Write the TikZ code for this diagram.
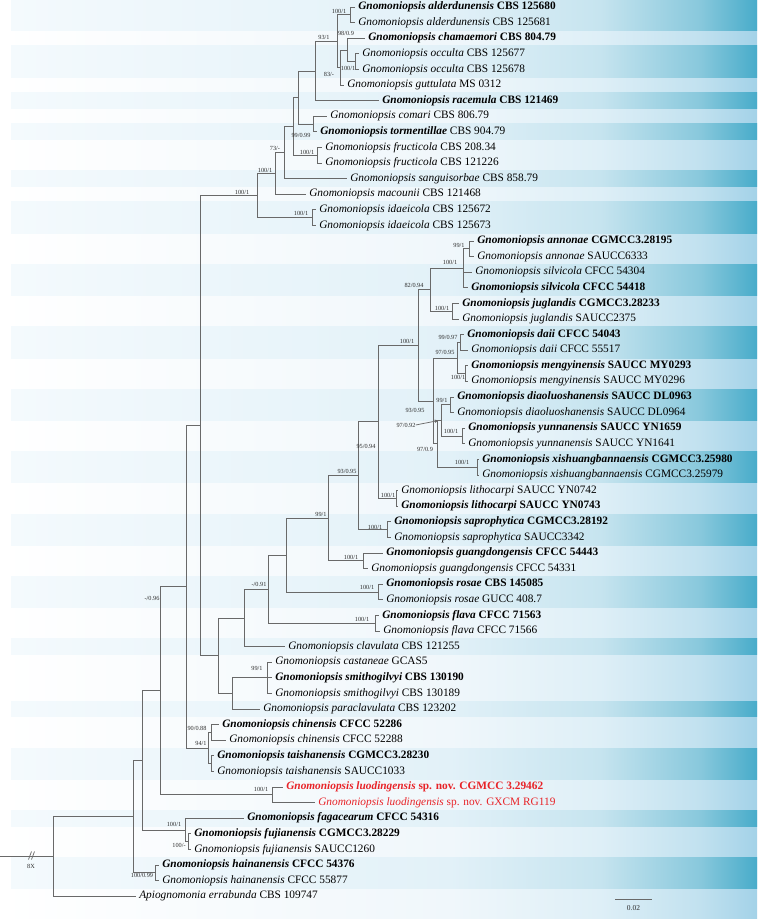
\documentclass[tikz,border=0pt]{standalone}
\usepackage{fontspec}
\setmainfont{Liberation Serif}
\usetikzlibrary{arrows.meta}
\definecolor{brc}{RGB}{105,105,105}
\definecolor{bsc}{RGB}{45,45,45}
\definecolor{redtx}{RGB}{232,35,40}
\definecolor{a0}{RGB}{244,250,253}
\definecolor{a1}{RGB}{226,241,248}
\definecolor{a2}{RGB}{198,228,239}
\definecolor{a3}{RGB}{136,200,220}
\definecolor{a4}{RGB}{72,172,202}
\definecolor{b0}{RGB}{255,255,255}
\definecolor{b1}{RGB}{240,247,251}
\definecolor{b2}{RGB}{222,239,247}
\definecolor{b3}{RGB}{193,225,239}
\definecolor{b4}{RGB}{163,210,232}
\newcommand{\taxfont}{\fontsize{8.5}{9.5}\selectfont}
\newcommand{\bsfont}{\fontsize{4.7}{5}\selectfont}
\newcommand{\TxB}[2]{\textbf{\textit{#1}} \textbf{#2}}
\newcommand{\TxN}[2]{\textit{#1} #2}
\begin{document}
\begin{tikzpicture}[x=0.75pt,y=-0.75pt,
  br/.style={draw=brc,line width=0.55pt},
  tx/.style={anchor=west,inner sep=0pt,font=\taxfont},
  bs/.style={inner sep=0pt,font=\bsfont,text=bsc}]
\useasboundingbox (0,0) rectangle (757,919);
\fill[white] (0,0) rectangle (757,919);
% light bands (whole height)
\shade[left color=b0,right color=b1] (0,0) rectangle (450.5,919);
\shade[left color=b1,right color=b2] (450,0) rectangle (600.5,919);
\shade[left color=b2,right color=b3] (600,0) rectangle (700.5,919);
\shade[left color=b3,right color=b4] (700,0) rectangle (757,919);
% darker bands
\foreach \ya/\yb in {0/30.4,46/77.2,92.8/108.4,124/139.6,170.8/186.4,202/233.2,264.4/295.6,326.8/358,389.2/420.4,451.6/482.8,514/545.2,576.4/607.6,638.8/654.4,701.2/716.8,748/779.2,810.4/826,857.2/888.4}{
  \shade[left color=a0,right color=a1] (11,\ya) rectangle (450.5,\yb);
  \shade[left color=a1,right color=a2] (450,\ya) rectangle (600.5,\yb);
  \shade[left color=a2,right color=a3] (600,\ya) rectangle (700.5,\yb);
  \shade[left color=a3,right color=a4] (700,\ya) rectangle (757,\yb);
}
% internal nodes
\coordinate (stem) at (0,856.4);
\coordinate (Root) at (53,856.4);
\coordinate (N133) at (133,816.6);
\coordinate (N142) at (142,760.35);
\coordinate (N160) at (160,690.8);
\coordinate (N186) at (186,586.8);
\coordinate (N200) at (200,425.55);
\coordinate (N257) at (257,195.45);
\coordinate (N275) at (275,173.3);
\coordinate (N284) at (284,152.45);
\coordinate (N293) at (293,126.3);
\coordinate (N298) at (298,97.45);
\coordinate (T1) at (315,70.9);
\coordinate (T2) at (337,41.1);
\coordinate (Aald) at (350,14.8);
\coordinate (N83) at (340,67.45);
\coordinate (C98) at (347,49.9);
\coordinate (Occ) at (355,61.6);
\coordinate (CT) at (313,124.0);
\coordinate (F) at (317,155.2);
\coordinate (I) at (312,217.6);
\coordinate (N218) at (218,655.65);
\coordinate (N244) at (244,617.9);
\coordinate (N268) at (268,589.15);
\coordinate (N286) at (286,555.1);
\coordinate (N328) at (328,518.25);
\coordinate (N358) at (358,475.7);
\coordinate (N378) at (378,421.85);
\coordinate (N418) at (418,345.3);
\coordinate (N430) at (430,289.75);
\coordinate (AS) at (463,268.3);
\coordinate (An) at (469,248.8);
\coordinate (Ju) at (452,311.2);
\coordinate (N433) at (433,400.9);
\coordinate (DM) at (457,358.0);
\coordinate (D) at (460,342.4);
\coordinate (M) at (465,373.6);
\coordinate (Z) at (437,443.8);
\coordinate (W) at (441,420.4);
\coordinate (Di) at (450,404.8);
\coordinate (Yu) at (462,436.0);
\coordinate (Xi) at (477,467.2);
\coordinate (Li) at (396,498.4);
\coordinate (Sp) at (387,529.6);
\coordinate (G) at (363,560.8);
\coordinate (R) at (378,592.0);
\coordinate (F2) at (375,623.2);
\coordinate (N232) at (232,693.4);
\coordinate (S) at (267,677.8);
\coordinate (CT2) at (208,748.0);
\coordinate (Ch) at (211,732.4);
\coordinate (Ta) at (211,763.6);
\coordinate (L) at (272,794.8);
\coordinate (FF) at (185,829.9);
\coordinate (FJ) at (188,841.6);
\coordinate (H) at (155,872.8);
% leaves
\node[tx] (l1) at (358,7.0) {\TxB{Gnomoniopsis alderdunensis}{CBS 125680}};
\node[tx] (l2) at (358,22.6) {\TxN{Gnomoniopsis alderdunensis}{CBS 125681}};
\node[tx] (l3) at (368,38.2) {\TxB{Gnomoniopsis chamaemori}{CBS 804.79}};
\node[tx] (l4) at (362,53.8) {\TxN{Gnomoniopsis occulta}{CBS 125677}};
\node[tx] (l5) at (362,69.4) {\TxN{Gnomoniopsis occulta}{CBS 125678}};
\node[tx] (l6) at (347,85.0) {\TxN{Gnomoniopsis guttulata}{MS 0312}};
\node[tx] (l7) at (382,100.6) {\TxB{Gnomoniopsis racemula}{CBS 121469}};
\node[tx] (l8) at (330,116.2) {\TxN{Gnomoniopsis comari}{CBS 806.79}};
\node[tx] (l9) at (320,131.8) {\textbf{\textit{Gnomoniopsis tormentillae}} CBS 904.79};
\node[tx] (l10) at (325,147.4) {\TxN{Gnomoniopsis fructicola}{CBS 208.34}};
\node[tx] (l11) at (325,163.0) {\TxN{Gnomoniopsis fructicola}{CBS 121226}};
\node[tx] (l12) at (350,178.6) {\TxN{Gnomoniopsis sanguisorbae}{CBS 858.79}};
\node[tx] (l13) at (309,194.2) {\TxN{Gnomoniopsis macounii}{CBS 121468}};
\node[tx] (l14) at (319,209.8) {\TxN{Gnomoniopsis idaeicola}{CBS 125672}};
\node[tx] (l15) at (319,225.4) {\TxN{Gnomoniopsis idaeicola}{CBS 125673}};
\node[tx] (l16) at (477,241.0) {\TxB{Gnomoniopsis annonae}{CGMCC3.28195}};
\node[tx] (l17) at (477,256.6) {\TxN{Gnomoniopsis annonae}{SAUCC6333}};
\node[tx] (l18) at (475,272.2) {\TxN{Gnomoniopsis silvicola}{CFCC 54304}};
\node[tx] (l19) at (471,287.8) {\TxB{Gnomoniopsis silvicola}{CFCC 54418}};
\node[tx] (l20) at (462,303.4) {\TxB{Gnomoniopsis juglandis}{CGMCC3.28233}};
\node[tx] (l21) at (462,319.0) {\TxN{Gnomoniopsis juglandis}{SAUCC2375}};
\node[tx] (l22) at (467,334.6) {\TxB{Gnomoniopsis daii}{CFCC 54043}};
\node[tx] (l23) at (471,350.2) {\TxN{Gnomoniopsis daii}{CFCC 55517}};
\node[tx] (l24) at (471,365.8) {\TxB{Gnomoniopsis mengyinensis}{SAUCC MY0293}};
\node[tx] (l25) at (471,381.4) {\TxN{Gnomoniopsis mengyinensis}{SAUCC MY0296}};
\node[tx] (l26) at (457,397.0) {\TxB{Gnomoniopsis diaoluoshanensis}{SAUCC DL0963}};
\node[tx] (l27) at (457,412.6) {\TxN{Gnomoniopsis diaoluoshanensis}{SAUCC DL0964}};
\node[tx] (l28) at (468,428.2) {\TxB{Gnomoniopsis yunnanensis}{SAUCC YN1659}};
\node[tx] (l29) at (468,443.8) {\TxN{Gnomoniopsis yunnanensis}{SAUCC YN1641}};
\node[tx] (l30) at (482,459.4) {\TxB{Gnomoniopsis xishuangbannaensis}{CGMCC3.25980}};
\node[tx] (l31) at (482,475.0) {\TxN{Gnomoniopsis xishuangbannaensis}{CGMCC3.25979}};
\node[tx] (l32) at (401,490.6) {\TxN{Gnomoniopsis lithocarpi}{SAUCC YN0742}};
\node[tx] (l33) at (401,506.2) {\TxB{Gnomoniopsis lithocarpi}{SAUCC YN0743}};
\node[tx] (l34) at (394,521.8) {\TxB{Gnomoniopsis saprophytica}{CGMCC3.28192}};
\node[tx] (l35) at (394,537.4) {\TxN{Gnomoniopsis saprophytica}{SAUCC3342}};
\node[tx] (l36) at (386,553.0) {\TxB{Gnomoniopsis guangdongensis}{CFCC 54443}};
\node[tx] (l37) at (371,568.6) {\TxN{Gnomoniopsis guangdongensis}{CFCC 54331}};
\node[tx] (l38) at (386,584.2) {\TxB{Gnomoniopsis rosae}{CBS 145085}};
\node[tx] (l39) at (386,599.8) {\TxN{Gnomoniopsis rosae}{GUCC 408.7}};
\node[tx] (l40) at (382,615.4) {\TxB{Gnomoniopsis flava}{CFCC 71563}};
\node[tx] (l41) at (383,631.0) {\TxN{Gnomoniopsis flava}{CFCC 71566}};
\node[tx] (l42) at (288,646.6) {\TxN{Gnomoniopsis clavulata}{CBS 121255}};
\node[tx] (l43) at (275,662.2) {\TxN{Gnomoniopsis castaneae}{GCAS5}};
\node[tx] (l44) at (275,677.8) {\TxB{Gnomoniopsis smithogilvyi}{CBS 130190}};
\node[tx] (l45) at (275,693.4) {\TxN{Gnomoniopsis smithogilvyi}{CBS 130189}};
\node[tx] (l46) at (263,709.0) {\TxN{Gnomoniopsis paraclavulata}{CBS 123202}};
\node[tx] (l47) at (222,724.6) {\TxB{Gnomoniopsis chinensis}{CFCC 52286}};
\node[tx] (l48) at (229,740.2) {\TxN{Gnomoniopsis chinensis}{CFCC 52288}};
\node[tx] (l49) at (217,755.8) {\TxB{Gnomoniopsis taishanensis}{CGMCC3.28230}};
\node[tx] (l50) at (217,771.4) {\TxN{Gnomoniopsis taishanensis}{SAUCC1033}};
\node[tx,text=redtx] (l51) at (286,787.0) {\TxB{Gnomoniopsis luodingensis}{sp. nov. CGMCC 3.29462}};
\node[tx,text=redtx] (l52) at (318,802.6) {\TxN{Gnomoniopsis luodingensis}{sp. nov. GXCM RG119}};
\node[tx] (l53) at (247,818.2) {\TxB{Gnomoniopsis fagacearum}{CFCC 54316}};
\node[tx] (l54) at (194,833.8) {\TxB{Gnomoniopsis fujianensis}{CGMCC3.28229}};
\node[tx] (l55) at (194,849.4) {\TxN{Gnomoniopsis fujianensis}{SAUCC1260}};
\node[tx] (l56) at (162,865.0) {\TxB{Gnomoniopsis hainanensis}{CFCC 54376}};
\node[tx] (l57) at (162,880.6) {\TxN{Gnomoniopsis hainanensis}{CFCC 55877}};
\node[tx] (l58) at (139,896.2) {\TxN{Apiognomonia errabunda}{CBS 109747}};
% branches between internal nodes
\draw[br] (stem) -- (Root);
\foreach \p/\c in {Root/N133,N133/N142,N133/H,N142/N160,N142/FF,N160/N186,N160/L,
  N186/N200,N186/CT2,N200/N257,N200/N218,N257/N275,N257/I,N275/N284,N284/N293,
  N293/N298,N293/F,N298/T1,N298/CT,T1/T2,T2/Aald,T2/N83,N83/C98,C98/Occ,
  N218/N244,N218/N232,N244/N268,N268/N286,N268/F2,N286/N328,N286/R,N328/N358,N328/G,
  N358/N378,N358/Sp,N378/N418,N378/Li,N418/N430,N418/N433,N430/AS,N430/Ju,AS/An,
  N433/DM,N433/Z,DM/D,DM/M,Z/W,Z/Xi,W/Di,W/Yu,N232/S,CT2/Ch,CT2/Ta,FF/FJ}
  {\draw[br] (\p) |- (\c);}
% branches to leaves
\foreach \p/\c in {Aald/l1,Aald/l2,C98/l3,Occ/l4,Occ/l5,N83/l6,T1/l7,CT/l8,CT/l9,
  F/l10,F/l11,N284/l12,N275/l13,I/l14,I/l15,An/l16,An/l17,AS/l18,AS/l19,Ju/l20,Ju/l21,
  D/l22,D/l23,M/l24,M/l25,Di/l26,Di/l27,Yu/l28,Yu/l29,Xi/l30,Xi/l31,Li/l32,Li/l33,
  Sp/l34,Sp/l35,G/l36,G/l37,R/l38,R/l39,F2/l40,F2/l41,N244/l42,S/l43,S/l44,S/l45,
  N232/l46,Ch/l47,Ch/l48,Ta/l49,Ta/l50,L/l51,L/l52,FF/l53,FJ/l54,FJ/l55,H/l56,H/l57,Root/l58}
  {\draw[br] (\p) |- ([xshift=-2.5pt]\c.west);}
% support values
\node[bs] (s1) at (339,11) {100/1};
\node[bs] (s2) at (346,33) {98/0.9};
\node[bs] (s3) at (324,37) {93/1};
\node[bs] (s4) at (348,68) {100/1};
\node[bs] (s5) at (329,74) {83/-};
\node[bs] (s6) at (301,135) {99/0.99};
\node[bs] (s7) at (275,148) {73/-};
\node[bs] (s8) at (307,152) {100/1};
\node[bs] (s9) at (265,170) {100/1};
\node[bs] (s10) at (242,192) {100/1};
\node[bs] (s11) at (301,213) {100/1};
\node[bs] (s12) at (459,245) {99/1};
\node[bs] (s13) at (450,262) {100/1};
\node[bs] (s14) at (414,285) {82/0.94};
\node[bs] (s15) at (442,308) {100/1};
\node[bs] (s16) at (407,341) {100/1};
\node[bs] (s17) at (448,337) {99/0.97};
\node[bs] (s18) at (445,352) {97/0.95};
\node[bs] (s19) at (458,377) {100/1};
\node[bs] (s20) at (442,400) {99/1};
\node[bs] (s21) at (415,410) {93/0.95};
\node[bs] (s22) at (406,425) {97/0.92};
\node[bs] (s23) at (451,431) {100/1};
\node[bs] (s24) at (425,449) {97/0.9};
\node[bs] (s25) at (462,462) {100/1};
\node[bs] (s26) at (366,446) {95/0.94};
\node[bs] (s27) at (388,495) {100/1};
\node[bs] (s28) at (347,471) {93/0.95};
\node[bs] (s29) at (321,514) {99/1};
\node[bs] (s30) at (375,527) {100/1};
\node[bs] (s31) at (351,557) {100/1};
\node[bs] (s32) at (259,584) {-/0.91};
\node[bs] (s33) at (367,587) {100/1};
\node[bs] (s34) at (362,619) {100/1};
\node[bs] (s35) at (257,668) {99/1};
\node[bs] (s36) at (197,728) {90/0.88};
\node[bs] (s37) at (201,743) {94/1};
\node[bs] (s38) at (152,598) {-/0.96};
\node[bs] (s39) at (261,789) {100/1};
\node[bs] (s40) at (174,824) {100/1};
\node[bs] (s41) at (179,845) {100/-};
\node[bs] (s42) at (142,875) {100/0.99};
% arrow from 97/0.92 to its node
\coordinate (Wtip) at (439,420.4);
\draw[br,-{Latex[length=3.2pt,width=2.6pt]}] (s22.east) -- (Wtip);
% root break marks and scale
\draw[br] (28.5,859.5) -- (31.5,851.5);
\draw[br] (31.5,859.5) -- (34.5,851.5);
\node[bs] (eightx) at (31,866) {8X};
\coordinate (sb1) at (615,899);
\coordinate (sb2) at (652,899);
\draw[br] (sb1) -- (sb2);
\node[bs,font=\fontsize{5.6}{6}\selectfont] (sbt) at (633.5,908) {0.02};
\end{tikzpicture}
\end{document}
